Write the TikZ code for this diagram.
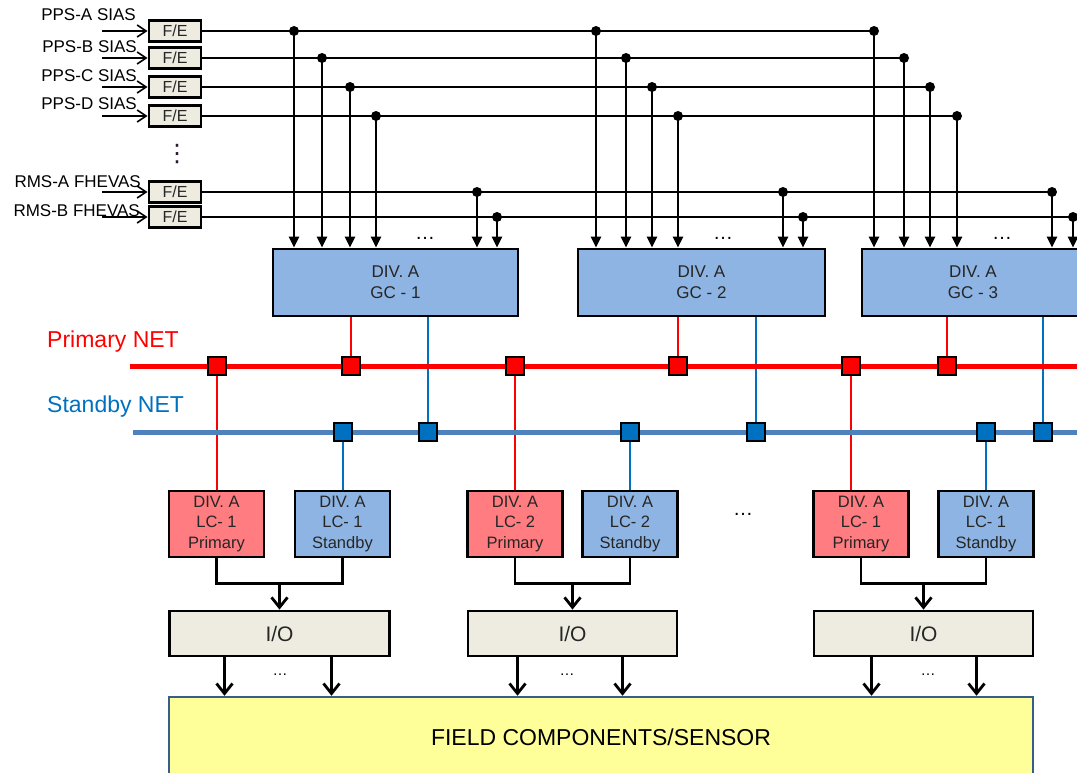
\documentclass[tikz,border=0pt]{standalone}
\usepackage{fontspec}
\setmainfont{Liberation Sans}
\newfontfamily\djv{DejaVu Sans}
\usetikzlibrary{arrows.meta,calc}
\definecolor{gcblue}{HTML}{8EB4E3}
\definecolor{lcred}{HTML}{FF7C80}
\definecolor{beige}{HTML}{EEECE1}
\definecolor{netblue}{HTML}{4F81BD}
\definecolor{linkblue}{HTML}{0070C0}
\definecolor{fieldy}{HTML}{FFFF99}
\definecolor{fieldb}{HTML}{385D8A}
\definecolor{txt}{HTML}{262626}
\definecolor{vdotc}{HTML}{2A1A30}
\begin{document}
\begin{tikzpicture}[x=1pt,y=-1pt,
 box/.style={draw=black,line width=2.8pt,inner sep=0pt,align=center,text=txt},
 febox/.style={box,fill=beige,minimum width=52pt,minimum height=21pt,font=\fontsize{16}{18}\selectfont},
 gcbox/.style={box,fill=gcblue,minimum height=67pt,font=\fontsize{17}{21}\selectfont},
 lcbox/.style={box,minimum width=95pt,minimum height=66pt,font=\fontsize{16.5}{20.5}\selectfont},
 lcp/.style={lcbox,fill=lcred},
 lcs/.style={lcbox,fill=gcblue},
 iobox/.style={box,fill=beige,minimum height=45pt,font=\fontsize{21}{24}\selectfont},
 sq/.style={draw=black,line width=2.8pt,minimum size=18pt,inner sep=0pt},
 rsq/.style={sq,fill=red},
 bsq/.style={sq,fill=linkblue},
 bus/.style={line width=2.8pt},
 tap/.style={line width=2.8pt,-{Triangle[width=10pt,length=11pt]}},
 inarr/.style={line width=1.6pt,-{Straight Barb[length=9pt,width=12pt]}},
 arr/.style={line width=2.8pt,-{Straight Barb[length=10pt,width=16pt]}},
 merge/.style={line width=2.8pt},
 rlink/.style={red,line width=2.2pt},
 blink/.style={linkblue,line width=2.2pt},
 lbl/.style={font=\fontsize{17}{18}\selectfont,inner sep=0pt,anchor=base east},
 dotsl/.style={font=\fontsize{20}{20}\selectfont,inner sep=0pt,anchor=base},
 dotss/.style={font=\fontsize{15}{15}\selectfont,inner sep=0pt,anchor=base}
]
\useasboundingbox (0,0) rectangle (1077,773);
\clip (0,0) rectangle (1077,773);

% F/E boxes and inputs
\foreach \y [count=\i] in {31,58,87,116,192,217} {
  \node[febox] (fe\i) at (175,\y) {F/E};
  \coordinate (in\i) at (102,\y);
}
\node[lbl] (l1) at (136,21) {PPS-A SIAS};
\node[lbl] (l2) at (137,53) {PPS-B SIAS};
\node[lbl] (l3) at (137,82) {PPS-C SIAS};
\node[lbl] (l4) at (137,110) {PPS-D SIAS};
\node[lbl] (l5) at (141,188) {RMS-A FHEVAS};
\node[lbl] (l6) at (140,217) {RMS-B FHEVAS};
\foreach \i in {1,...,6} \draw[inarr] (in\i) -- (fe\i.west);
\node[font=\djv\fontsize{24}{24}\selectfont,inner sep=0pt,text=vdotc] (vd) at (177,154) {⋮};

% GC boxes
\node[gcbox,minimum width=245pt] (gc1) at (395.5,282.5) {DIV. A\\GC - 1};
\node[gcbox,minimum width=247pt] (gc2) at (701.5,282.5) {DIV. A\\GC - 2};
\node[gcbox,minimum width=222pt] (gc3) at (973,282.5) {DIV. A\\GC - 3};

% tap points
\foreach \g/\a/\b/\c/\d/\e/\f in {1/294/322/350/376/477/497,2/596/626/652/678/783/803,3/874/904/930/957/1052/1073} {
  \coordinate (t\g-1) at (\a,31);
  \coordinate (t\g-2) at (\b,58);
  \coordinate (t\g-3) at (\c,87);
  \coordinate (t\g-4) at (\d,116);
  \coordinate (t\g-5) at (\e,192);
  \coordinate (t\g-6) at (\f,217);
}
\foreach \i in {1,...,6} \draw[bus] (fe\i.east) -- (t3-\i);
\foreach \g in {1,2,3} {
  \foreach \i in {1,...,6} {
    \fill (t\g-\i) circle (5pt);
    \draw[tap] (t\g-\i) -- (t\g-\i |- gc\g.north);
  }
}
\node[dotsl] (d1) at (425,239) {…};
\node[dotsl] (d2) at (723,239) {…};
\node[dotsl] (d3) at (1002,239) {…};

% nets
\node[font=\fontsize{23}{25}\selectfont,text=red,anchor=base west,inner sep=0pt] (pnet) at (47,347) {Primary NET};
\node[font=\fontsize{23}{25}\selectfont,text=linkblue,anchor=base west,inner sep=0pt] (snet) at (47,412) {Standby NET};
\coordinate (pw) at (130,366);
\coordinate (pe) at (1085,366);
\coordinate (sw) at (133,432);
\coordinate (se) at (1085,432);

% LC boxes
\node[lcp] (lc1p) at (216.5,524) {DIV. A\\LC- 1\\Primary};
\node[lcs] (lc1s) at (342.5,524) {DIV. A\\LC- 1\\Standby};
\node[lcp] (lc2p) at (515,524) {DIV. A\\LC- 2\\Primary};
\node[lcs] (lc2s) at (630,524) {DIV. A\\LC- 2\\Standby};
\node[lcp] (lc3p) at (861,524) {DIV. A\\LC- 1\\Primary};
\node[lcs] (lc3s) at (986,524) {DIV. A\\LC- 1\\Standby};
\node[dotsl] (d4) at (743,515) {…};

% squares (positions)
\coordinate (r1) at (217,366);
\coordinate (r2) at (351,366);
\coordinate (r3) at (515,366);
\coordinate (r4) at (678,366);
\coordinate (r5) at (851,366);
\coordinate (r6) at (947,366);
\coordinate (b1) at (343,432);
\coordinate (b2) at (428,432);
\coordinate (b3) at (630,432);
\coordinate (b4) at (756,432);
\coordinate (b5) at (986,432);
\coordinate (b6) at (1043,432);

% vertical links
\draw[rlink] (r2 |- gc1.south) -- (r2);
\draw[blink] (b2 |- gc1.south) -- (b2);
\draw[rlink] (r4 |- gc2.south) -- (r4);
\draw[blink] (b4 |- gc2.south) -- (b4);
\draw[rlink] (r6 |- gc3.south) -- (r6);
\draw[blink] (b6 |- gc3.south) -- (b6);
\draw[rlink] (r1) -- (r1 |- lc1p.north);
\draw[rlink] (r3) -- (r3 |- lc2p.north);
\draw[rlink] (r5) -- (r5 |- lc3p.north);
\draw[blink] (b1) -- (b1 |- lc1s.north);
\draw[blink] (b3) -- (b3 |- lc2s.north);
\draw[blink] (b5) -- (b5 |- lc3s.north);

% net lines
\draw[red,line width=5pt] (pw) -- (pe);
\draw[netblue,line width=5pt] (sw) -- (se);
\foreach \n in {r1,r2,r3,r4,r5,r6} \node[rsq] (s\n) at (\n) {};
\foreach \n in {b1,b2,b3,b4,b5,b6} \node[bsq] (s\n) at (\n) {};

% I/O boxes
\node[iobox,minimum width=220pt] (io1) at (279.5,633.5) {I/O};
\node[iobox,minimum width=209pt] (io2) at (572.5,633.5) {I/O};
\node[iobox,minimum width=219pt] (io3) at (923.5,633.5) {I/O};

% merges
\foreach \k in {1,2,3} {
  \draw[merge] (lc\k p.south) -- ++(0,25) -| (lc\k s.south);
  \coordinate (m\k) at ($(lc\k p.south)+(0,25)$);
  \draw[arr] (m\k -| io\k.north) -- (io\k.north);
}

% field
\node[draw=fieldb,line width=2.5pt,fill=fieldy,minimum width=864pt,minimum height=80pt,inner sep=0pt,font=\fontsize{23}{25}\selectfont] (field) at (601,737) {FIELD COMPONENTS/SENSOR};

\draw[arr] ([xshift=-55pt]io1.south) -- ([xshift=-55pt]io1.south |- field.north);
\draw[arr] ([xshift=52pt]io1.south) -- ([xshift=52pt]io1.south |- field.north);
\draw[arr] ([xshift=-55pt]io2.south) -- ([xshift=-55pt]io2.south |- field.north);
\draw[arr] ([xshift=50pt]io2.south) -- ([xshift=50pt]io2.south |- field.north);
\draw[arr] ([xshift=-52pt]io3.south) -- ([xshift=-52pt]io3.south |- field.north);
\draw[arr] ([xshift=53pt]io3.south) -- ([xshift=53pt]io3.south |- field.north);
\node[dotss] (d5) at (280,675) {…};
\node[dotss] (d6) at (567,675) {…};
\node[dotss] (d7) at (928,675) {…};
\end{tikzpicture}
\end{document}
